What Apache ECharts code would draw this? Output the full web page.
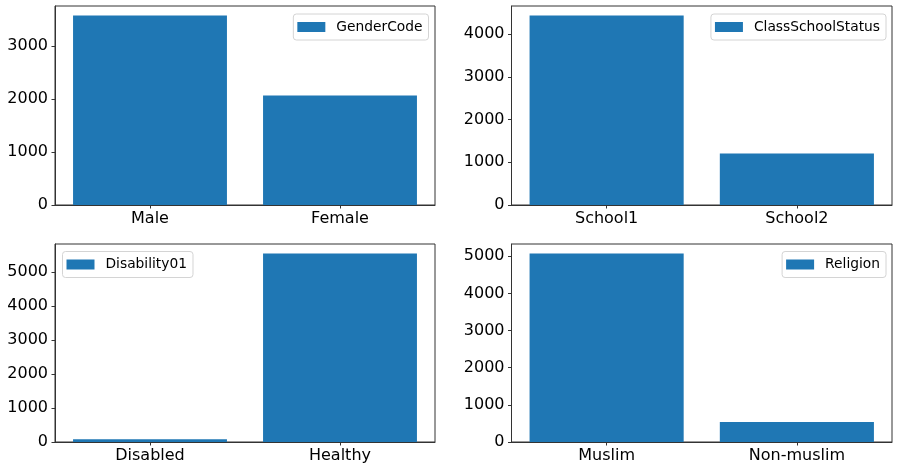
<!DOCTYPE html>
<html>
<head>
<meta charset="utf-8">
<script src="https://cdn.jsdelivr.net/npm/echarts@6/dist/echarts.min.js"></script>
<style>
html,body{margin:0;padding:0;background:#fff;}
#c{width:898px;height:471px;}
</style>
</head>
<body>
<div id="c"></div>
<script>
// Data
const genderCats = ['Male', 'Female'];
const genderVals = [3572, 2062];
const schoolCats = ['School1', 'School2'];
const schoolVals = [4437, 1203];
const disabilityCats = ['Disabled', 'Healthy'];
const disabilityVals = [80, 5545];
const religionCats = ['Muslim', 'Non-muslim'];
const religionVals = [5075, 539];
const seriesNames = ['GenderCode', 'ClassSchoolStatus', 'Disability01', 'Religion'];
const yTicksTL = [0, 1000, 2000, 3000];
const yTicksTR = [0, 1000, 2000, 3000, 4000];
const yTicksBL = [0, 1000, 2000, 3000, 4000, 5000];
const yTicksBR = [0, 1000, 2000, 3000, 4000, 5000];

const FONT = 'DejaVu Sans';
const BAR = '#1f77b4';
const FRAME = '#333';

const catsList = [genderCats, schoolCats, disabilityCats, religionCats];
const valsList = [genderVals, schoolVals, disabilityVals, religionVals];
const ticksList = [yTicksTL, yTicksTR, yTicksBL, yTicksBR];

const grids = [
  {left: 55, right: 463, top: 6, bottom: 266},
  {left: 511.5, right: 6, top: 6, bottom: 266},
  {left: 55, right: 463, top: 244, bottom: 29},
  {left: 511.5, right: 6, top: 244, bottom: 29}
].map(g => Object.assign({show: true, borderColor: FRAME, borderWidth: 1, backgroundColor: 'transparent'}, g));

const legendPos = [
  {right: 469.5, top: 14},
  {right: 12, top: 14},
  {left: 62.5, top: 251.5},
  {right: 12, top: 251.5}
];

const option = {
  animation: false,
  backgroundColor: '#fff',
  textStyle: {fontFamily: FONT},
  grid: grids,
  legend: seriesNames.map((n, i) => Object.assign({
    data: [n],
    orient: 'horizontal',
    icon: 'rect',
    itemWidth: 28,
    itemHeight: 10,
    padding: [6, 6, 6, 4],
    borderColor: '#d4d4d4',
    borderWidth: 1,
    borderRadius: 3,
    backgroundColor: 'rgba(255,255,255,0.8)',
    textStyle: {fontFamily: FONT, fontSize: 13.8, color: '#000', padding: [0, 0, 0, 6]},
    selectedMode: false
  }, legendPos[i])),
  xAxis: catsList.map((c, i) => ({
    type: 'category',
    gridIndex: i,
    data: c,
    axisLine: {show: true, lineStyle: {color: FRAME, width: 1}},
    axisTick: {show: true, alignWithLabel: true, length: 3.5, lineStyle: {color: FRAME}},
    axisLabel: {fontFamily: FONT, fontSize: 16, color: '#000', margin: 6},
    splitLine: {show: false}
  })),
  yAxis: valsList.map((v, i) => ({
    type: 'value',
    gridIndex: i,
    min: 0,
    max: Math.max.apply(null, v) * 1.05,
    axisLine: {show: true, lineStyle: {color: FRAME, width: 1}},
    axisTick: {show: true, length: 3.5, lineStyle: {color: FRAME}, customValues: ticksList[i]},
    axisLabel: {fontFamily: FONT, fontSize: 16, color: '#000', margin: 7, customValues: ticksList[i],
      formatter: val => String(Math.round(val))},
    splitLine: {show: false}
  })),
  series: valsList.map((v, i) => ({
    name: seriesNames[i],
    type: 'bar',
    xAxisIndex: i,
    yAxisIndex: i,
    data: v,
    barCategoryGap: '19%',
    itemStyle: {color: BAR}
  }))
};

const chart = echarts.init(document.getElementById('c'), null, {renderer: 'canvas'});
chart.setOption(option);
</script>
</body>
</html>
